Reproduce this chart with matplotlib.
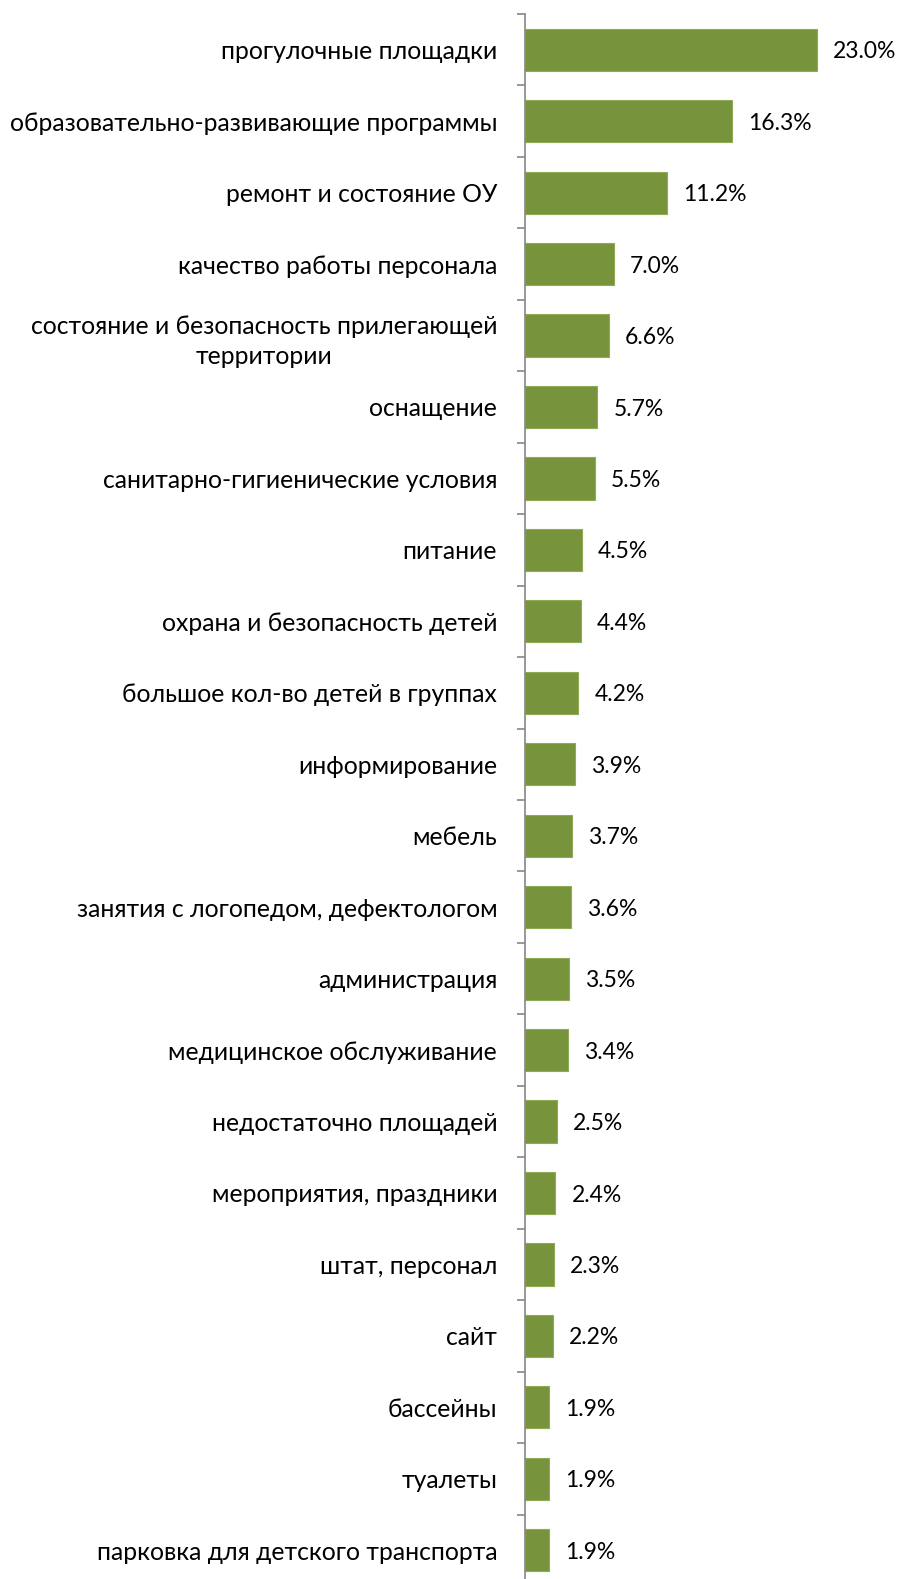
import matplotlib
matplotlib.use('Agg')
import matplotlib.pyplot as plt
import numpy as np

categories = [
    'прогулочные площадки',
    'образовательно-развивающие программы',
    'ремонт и состояние ОУ',
    'качество работы персонала',
    'состояние и безопасность прилегающей\nтерритории',
    'оснащение',
    'санитарно-гигиенические условия',
    'питание',
    'охрана и безопасность детей',
    'большое кол-во детей в группах',
    'информирование',
    'мебель',
    'занятия с логопедом, дефектологом',
    'администрация',
    'медицинское обслуживание',
    'недостаточно площадей',
    'мероприятия, праздники',
    'штат, персонал',
    'сайт',
    'бассейны',
    'туалеты',
    'парковка для детского транспорта',
]
values = [23.0, 16.3, 11.2, 7.0, 6.6, 5.7, 5.5, 4.5, 4.4, 4.2, 3.9, 3.7,
          3.6, 3.5, 3.4, 2.5, 2.4, 2.3, 2.2, 1.9, 1.9, 1.9]

plt.rcParams['font.family'] = ['Lato', 'DejaVu Sans']

W, H = 905, 1579
fig = plt.figure(figsize=(W / 100, H / 100), dpi=100)
# axis line runs a bit past the bottom edge of the picture
ax = fig.add_axes([525 / W, -7 / H, 1 - 525 / W, (H + 7 - 14) / H])

y = np.arange(len(categories))
bars = ax.barh(y, values, height=0.59, color='#77933C', edgecolor='#8FAA55', linewidth=0.8)

ax.set_ylim(len(categories) - 0.5, -0.5)
ax.set_xlim(0, 380 / 12.7)

ax.set_yticks(y)
ax.set_yticklabels(categories, fontsize=17.8, multialignment='center', linespacing=1.4)
ax.tick_params(axis='y', which='major', length=0, pad=20)
ax.set_yticks(np.arange(len(categories) + 1) - 0.5, minor=True)
ax.tick_params(axis='y', which='minor', length=6, width=1.2, color='#868686', direction='out')

for b, v in zip(bars, values):
    ax.annotate('%.1f%%' % v, (b.get_width(), b.get_y() + b.get_height() / 2),
                xytext=(16, 0), textcoords='offset pixels', va='center_baseline',
                ha='left', fontsize=16.5)

ax.set_xticks([])
for s in ['top', 'right', 'bottom']:
    ax.spines[s].set_visible(False)
ax.spines['left'].set_color('#868686')
ax.spines['left'].set_linewidth(1.2)

fig.savefig('out.png', dpi=100)
